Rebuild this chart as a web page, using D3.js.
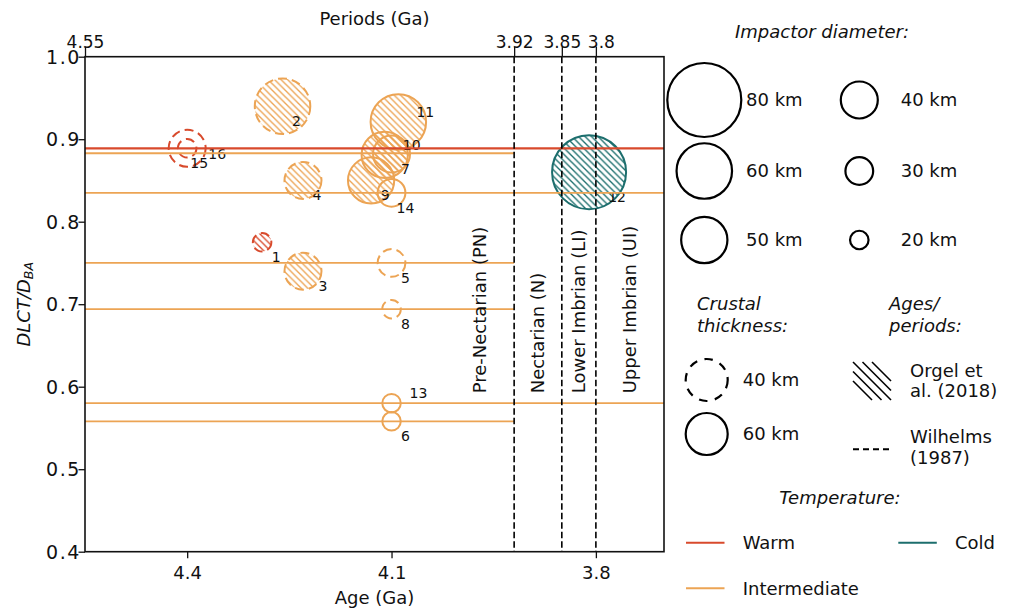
<!DOCTYPE html>
<html>
<head>
<meta charset="utf-8">
<script src="https://cdn.jsdelivr.net/npm/d3@7"></script>
<style>
  body { margin: 0; background: #fff; }
  svg { display: block; font-family: "DejaVu Sans", sans-serif; }
</style>
</head>
<body>
<svg id="chart" width="1012" height="613"></svg>
<script>
// ---- Crater data -------------------------------------------------------
const craterIds        = [1, 2, 3, 4, 5, 6, 7, 8, 9, 10, 11, 12, 13, 14, 15, 16];
const craterAges       = [4.29, 4.26, 4.23, 4.23, 4.10, 4.10, 4.10, 4.10, 4.13, 4.11, 4.09, 3.81, 4.10, 4.10, 4.40, 4.40];
const craterRatios     = [0.775, 0.940, 0.740, 0.850, 0.750, 0.558, 0.882, 0.694, 0.850, 0.881, 0.921, 0.860, 0.580, 0.835, 0.889, 0.889];
const impactorDiameter = [20, 60, 40, 40, 30, 20, 40, 20, 50, 50, 60, 80, 20, 30, 40, 20];   // km
const crustThickness   = [40, 40, 40, 40, 40, 60, 60, 40, 60, 60, 60, 60, 60, 60, 40, 40];   // km
const ageSource        = ["Orgel", "Orgel", "Orgel", "Orgel", "Wilhelms", "Wilhelms", "Orgel", "Wilhelms",
                          "Orgel", "Orgel", "Orgel", "Orgel", "Wilhelms", "Wilhelms", "Wilhelms", "Wilhelms"];
const craterTemp       = ["Warm", "Intermediate", "Intermediate", "Intermediate", "Intermediate", "Intermediate",
                          "Intermediate", "Intermediate", "Intermediate", "Intermediate", "Intermediate", "Cold",
                          "Intermediate", "Intermediate", "Warm", "Warm"];

// ---- Age ranges of period-dated craters (horizontal lines) -------------
const rangeRatios  = [0.889, 0.883, 0.835, 0.750, 0.694, 0.580, 0.558];
const rangeTemps   = ["Warm", "Intermediate", "Intermediate", "Intermediate", "Intermediate", "Intermediate", "Intermediate"];
const rangeEndAges = [3.70, 3.92, 3.70, 3.92, 3.92, 3.70, 3.92];

// ---- Periods & ticks ---------------------------------------------------
const periodBoundaries = [3.92, 3.85, 3.80];
const periodNames      = ["Pre-Nectarian (PN)", "Nectarian (N)", "Lower Imbrian (LI)", "Upper Imbrian (UI)"];
const periodLabelAges  = [3.97, 3.885, 3.825, 3.75];
const topTicks    = [4.55, 3.92, 3.85, 3.8];
const bottomTicks = [4.4, 4.1, 3.8];
const yTicks      = [0.4, 0.5, 0.6, 0.7, 0.8, 0.9, 1.0];

// ---- Legend entries ----------------------------------------------------
const legendDiameters = [80, 60, 50, 40, 30, 20];
const legendCrust     = [40, 60];
const legendTemps     = ["Warm", "Cold", "Intermediate"];

// ---- Layout ------------------------------------------------------------
const svg = d3.select("#chart");
const x = d3.scaleLinear().domain([4.55, 3.70]).range([85, 664]);
const y = d3.scaleLinear().domain([0.4, 1.0]).range([551.7, 56.7]);
const r = d3.scaleLinear().domain([0, 80]).range([0, 37]);
const color = d3.scaleOrdinal()
  .domain(["Warm", "Intermediate", "Cold"])
  .range(["#d84a2c", "#eca454", "#1c6e6d"]);

const FONT = 18;

// hatch patterns, one per temperature colour
const defs = svg.append("defs");
const T = 6.5;
color.domain().forEach(t => {
  const p = defs.append("pattern")
    .attr("id", "hatch-" + t)
    .attr("patternUnits", "userSpaceOnUse")
    .attr("width", T).attr("height", T);
  p.append("path")
    .attr("d", `M-1,-1L${T + 1},${T + 1}M-1,${T - 1}L1,${T + 1}M${T - 1},-1L${T + 1},1`)
    .attr("stroke", color(t)).attr("stroke-width", 1.35).attr("fill", "none");
});

const craters = craterIds.map((id, i) => ({
  id, age: craterAges[i], ratio: craterRatios[i], diam: impactorDiameter[i],
  crust: crustThickness[i], source: ageSource[i], temp: craterTemp[i]
}));

// craters
svg.append("g").selectAll("circle")
  .data(craters).join("circle")
  .attr("cx", d => x(d.age))
  .attr("cy", d => y(d.ratio))
  .attr("r", d => r(d.diam))
  .attr("fill", d => d.source === "Orgel" ? `url(#hatch-${d.temp})` : "none")
  .attr("stroke", d => color(d.temp))
  .attr("stroke-width", 2)
  .attr("stroke-dasharray", d => d.crust === 40 ? "9,5" : null);

// crater number labels
const labelShift = { 3: [20, 15], 10: [27, -10], 11: [27, -10], 13: [27, -10], 12: [28, 25], 15: [12, 15], 16: [30, 6] };
svg.append("g").selectAll("text")
  .data(craters).join("text")
  .attr("x", d => x(d.age) + (labelShift[d.id] ? labelShift[d.id][0] : 14))
  .attr("y", d => y(d.ratio) + (labelShift[d.id] ? labelShift[d.id][1] : 15))
  .attr("dy", "0.35em")
  .attr("text-anchor", "middle")
  .attr("font-size", 14)
  .attr("fill", "#111")
  .text(d => d.id);

// horizontal age-range lines
const ranges = rangeRatios.map((v, i) => ({ v, temp: rangeTemps[i], end: rangeEndAges[i] }));
svg.append("g").selectAll("line")
  .data(ranges).join("line")
  .attr("x1", x(4.55)).attr("x2", d => x(d.end))
  .attr("y1", d => y(d.v)).attr("y2", d => y(d.v))
  .attr("stroke", d => color(d.temp))
  .attr("stroke-width", d => d.temp === "Warm" ? 2.2 : 1.8);

// period boundaries
svg.append("g").selectAll("line")
  .data(periodBoundaries).join("line")
  .attr("x1", d => x(d)).attr("x2", d => x(d))
  .attr("y1", y(1.0)).attr("y2", y(0.4))
  .attr("stroke", "#000").attr("stroke-width", 1.6)
  .attr("stroke-dasharray", "6.5,3");

// period names
svg.append("g").selectAll("text")
  .data(periodNames).join("text")
  .attr("transform", (d, i) => `translate(${x(periodLabelAges[i])},${y(0.592)}) rotate(-90)`)
  .attr("dy", "0.35em")
  .attr("font-size", FONT)
  .attr("fill", "#111")
  .text(d => d);

// axes
function styleAxis(g, size) {
  g.select(".domain").remove();
  g.selectAll(".tick line").attr("stroke", "#111").attr("stroke-width", 1.3);
  g.selectAll(".tick text").attr("font-size", size).attr("font-family", "DejaVu Sans").attr("fill", "#111");
}
svg.append("g").attr("transform", `translate(0,${y(0.4)})`)
  .call(d3.axisBottom(x).tickValues(bottomTicks).tickFormat(d => String(d)).tickSize(6.5).tickPadding(8.5).tickSizeOuter(0))
  .call(g => styleAxis(g, FONT));
svg.append("g").attr("transform", `translate(0,${y(1.0)})`)
  .call(d3.axisTop(x).tickValues(topTicks).tickFormat(d => String(d)).tickSize(10).tickPadding(-1).tickSizeOuter(0))
  .call(g => styleAxis(g, 17))
  .call(g => g.selectAll(".tick text").attr("dx", d => d === 3.8 ? 5 : 0));
svg.append("g").attr("transform", `translate(${x(4.55)},0)`)
  .call(d3.axisLeft(y).tickValues(yTicks).tickFormat(d3.format(".1f")).tickSize(6.5).tickPadding(-2.5).tickSizeOuter(0))
  .call(g => styleAxis(g, 19))
  .call(g => g.selectAll(".tick text").attr("letter-spacing", "1.6px").attr("dy", "0.34em"));

// frame
svg.append("rect")
  .attr("x", x(4.55)).attr("y", y(1.0))
  .attr("width", x(3.7) - x(4.55)).attr("height", y(0.4) - y(1.0))
  .attr("fill", "none").attr("stroke", "#111").attr("stroke-width", 1.6);

// axis titles
svg.append("text").attr("x", (x(4.55) + x(3.7)) / 2).attr("y", 25)
  .attr("text-anchor", "middle").attr("font-size", FONT).attr("fill", "#111").text("Periods (Ga)");
svg.append("text").attr("x", (x(4.55) + x(3.7)) / 2).attr("y", 604)
  .attr("text-anchor", "middle").attr("font-size", FONT).attr("fill", "#111").text("Age (Ga)");
const yl = svg.append("text")
  .attr("transform", `translate(29.5,${(y(0.4) + y(1.0)) / 2}) rotate(-90)`)
  .attr("text-anchor", "middle").attr("font-size", FONT).attr("font-style", "italic").attr("fill", "#111");
yl.append("tspan").text("DLCT/D");
yl.append("tspan").attr("dy", "0.3em").attr("font-size", 12.6).text("BA");

// ---- Legend ------------------------------------------------------------
const leg = svg.append("g").attr("fill", "#111").attr("font-size", FONT);
leg.append("text").attr("x", 822).attr("y", 38).attr("text-anchor", "middle")
  .attr("font-style", "italic").text("Impactor diameter:");

const sizeCols = [704.3, 859.3], sizeLabelCols = [746, 900.7], sizeRows = [100, 171, 240];
legendDiameters.forEach((dk, i) => {
  const col = Math.floor(i / 3), row = i % 3;
  leg.append("circle").attr("cx", sizeCols[col]).attr("cy", sizeRows[row]).attr("r", r(dk))
    .attr("fill", "none").attr("stroke", "#000").attr("stroke-width", 2.2);
  leg.append("text").attr("x", sizeLabelCols[col]).attr("y", sizeRows[row]).attr("dy", "0.35em").text(dk + " km");
});

// crustal thickness
leg.append("text").attr("x", 697).attr("y", 310).attr("font-style", "italic").text("Crustal");
leg.append("text").attr("x", 697).attr("y", 332).attr("font-style", "italic").text("thickness:");
const crustRows = [380, 434];
legendCrust.forEach((c, i) => {
  leg.append("circle").attr("cx", 706.7).attr("cy", crustRows[i]).attr("r", 21)
    .attr("fill", "none").attr("stroke", "#000").attr("stroke-width", 2.2)
    .attr("stroke-dasharray", c === 40 ? "8.5,7.5" : null);
  leg.append("text").attr("x", 742.7).attr("y", crustRows[i]).attr("dy", "0.35em").text(c + " km");
});

// ages / periods
leg.append("text").attr("x", 889).attr("y", 310).attr("font-style", "italic").text("Ages/");
leg.append("text").attr("x", 889).attr("y", 332).attr("font-style", "italic").text("periods:");
const hx = 853, hy = 362, hs = 38, step = 9.5;
const hatchG = leg.append("g");
[-2, -1, 0, 1, 2].forEach(k => {
  const c = k * step;  // line: (y - hy) - (x - hx) = -c
  const xa = Math.max(0, c), xb = Math.min(hs, hs + c);
  hatchG.append("line")
    .attr("x1", hx + xa).attr("y1", hy + xa - c)
    .attr("x2", hx + xb).attr("y2", hy + xb - c)
    .attr("stroke", "#000").attr("stroke-width", 1.6);
});
leg.append("text").attr("x", 910).attr("y", 371).attr("dy", "0.35em").text("Orgel et");
leg.append("text").attr("x", 910).attr("y", 391).attr("dy", "0.35em").text("al. (2018)");
leg.append("line").attr("x1", 853).attr("x2", 892).attr("y1", 449.3).attr("y2", 449.3)
  .attr("stroke", "#000").attr("stroke-width", 2).attr("stroke-dasharray", "6,4");
leg.append("text").attr("x", 910).attr("y", 437).attr("dy", "0.35em").text("Wilhelms");
leg.append("text").attr("x", 910).attr("y", 458).attr("dy", "0.35em").text("(1987)");

// temperature
leg.append("text").attr("x", 840).attr("y", 498).attr("dy", "0.35em").attr("text-anchor", "middle")
  .attr("font-style", "italic").text("Temperature:");
const tempPos = { Warm: [686, 542.7], Cold: [898.3, 542.7], Intermediate: [686, 588.3] };
legendTemps.forEach(t => {
  const [lx, ly] = tempPos[t];
  leg.append("line").attr("x1", lx).attr("x2", lx + 38.5).attr("y1", ly).attr("y2", ly)
    .attr("stroke", color(t)).attr("stroke-width", 2);
  leg.append("text").attr("x", lx + 56.7).attr("y", ly).attr("dy", "0.35em").text(t);
});
</script>
</body>
</html>
